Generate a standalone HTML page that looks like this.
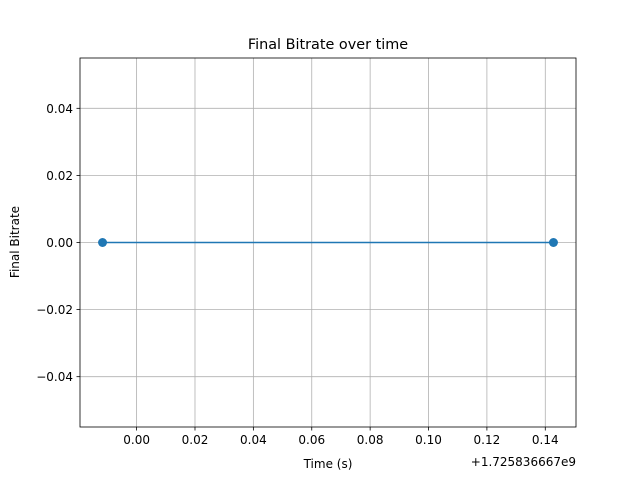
<!DOCTYPE html>
<html><head><meta charset="utf-8"><style>
body{margin:0;background:#fff;}
svg text{font-family:"DejaVu Sans","Liberation Sans",sans-serif;fill:#000;}
</style></head><body>
<svg width="640" height="480" xmlns="http://www.w3.org/2000/svg">
<rect x="0" y="0" width="640" height="480" fill="#fff"/>
<g id="grid"></g>
<g id="series"></g>
<rect x="80" y="58" width="496" height="369" fill="none" stroke="#000" stroke-width="0.8"/>
<g id="ticks"></g>
<text x="328" y="49" text-anchor="middle" font-size="14.4">Final Bitrate over time</text>
<text x="328" y="468" text-anchor="middle" font-size="12">Time (s)</text>
<text x="19" y="242" text-anchor="middle" font-size="12" transform="rotate(-90 19 242)">Final Bitrate</text>
<text x="576" y="466" text-anchor="end" font-size="12">+1.725836667e9</text>
</svg>
<script>
const xValues = [-0.01167, 0.1428];
const yValues = [0, 0];
const xTicks = [0, 0.02, 0.04, 0.06, 0.08, 0.10, 0.12, 0.14];
const xTickLabels = ["0.00","0.02","0.04","0.06","0.08","0.10","0.12","0.14"];
const yTicks = [-0.04, -0.02, 0, 0.02, 0.04];
const yTickLabels = ["\u22120.04","\u22120.02","0.00","0.02","0.04"];

const NS = "http://www.w3.org/2000/svg";
const L = 80, R = 576, T = 58, B = 427;
const xmin0 = Math.min(...xValues), xmax0 = Math.max(...xValues);
const xpad = (xmax0 - xmin0) * 0.05 || 0.01;
const xmin = xmin0 - xpad, xmax = xmax0 + xpad;
const ymin = -0.055, ymax = 0.055;
const xs = v => L + (v - xmin) / (xmax - xmin) * (R - L);
const ys = v => B - (v - ymin) / (ymax - ymin) * (B - T);
function mk(tag, attrs, parent) {
  const e = document.createElementNS(NS, tag);
  for (const k in attrs) e.setAttribute(k, attrs[k]);
  parent.appendChild(e);
  return e;
}
const grid = document.getElementById("grid"), ticks = document.getElementById("ticks"), series = document.getElementById("series");
xTicks.forEach((t, i) => {
  const x = xs(t);
  const g = mk("line", {x1: x, x2: x, y1: T, y2: B, stroke: "#b0b0b0", "stroke-width": 0.8}, grid);
  
  
  const tk = mk("line", {x1: x, x2: x, y1: B, y2: B + 3.5, stroke: "#000", "stroke-width": 0.8}, ticks);
  
  
  const tx = mk("text", {x: x, y: B + 17, "text-anchor": "middle", "font-size": 12}, ticks);
  tx.textContent = xTickLabels[i];
  
  
});
yTicks.forEach((t, i) => {
  const y = ys(t);
  const g = mk("line", {x1: L, x2: R, y1: y, y2: y, stroke: "#b0b0b0", "stroke-width": 0.8}, grid);
  
  
  const tk = mk("line", {x1: L - 3.5, x2: L, y1: y, y2: y, stroke: "#000", "stroke-width": 0.8}, ticks);
  
  
  const tx = mk("text", {x: L - 7, y: y + 4.5, "text-anchor": "end", "font-size": 12}, ticks);
  tx.textContent = yTickLabels[i];
  
  
});
const pts = xValues.map((v, i) => xs(v) + "," + ys(yValues[i])).join(" ");
const line = mk("polyline", {points: pts, fill: "none", stroke: "#1f77b4", "stroke-width": 1.5}, series);


xValues.forEach((v, i) => {
  const c = mk("circle", {cx: xs(v), cy: ys(yValues[i]), r: 4.5, fill: "#1f77b4"}, series);
  
  
});
</script>
</body></html>
